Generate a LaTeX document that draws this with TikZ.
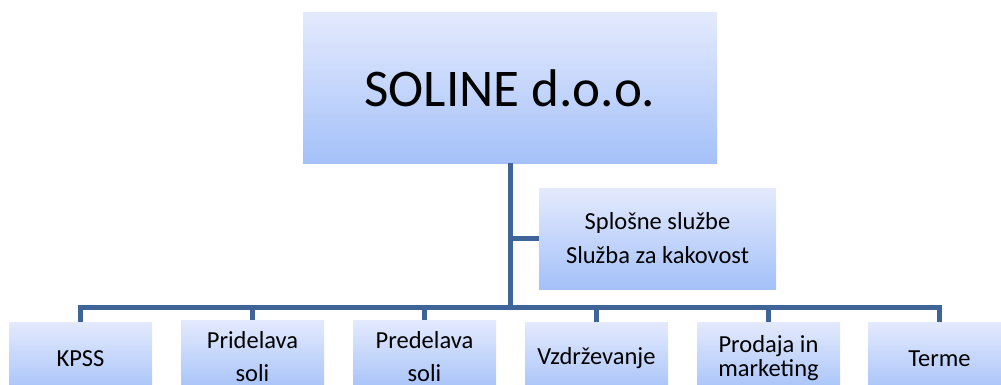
\documentclass[tikz,border=0pt]{standalone}
\usepackage{fontspec}
\setmainfont{Carlito}
\usepackage{tikz}

\definecolor{boxtop}{HTML}{E4EAFD}
\definecolor{boxbot}{HTML}{A4C1F9}
\definecolor{linkblue}{HTML}{3F6497}

\tikzset{
  unit/.style={top color=boxtop, bottom color=boxbot, draw=none, inner sep=0pt,
    align=center, font=\fontsize{24.5}{29.4}\selectfont},
  dept/.style={unit, minimum width=143pt, minimum height=73pt},
  link/.style={draw=linkblue, line width=5pt}
}

\begin{document}
\begin{tikzpicture}[x=1pt,y=-1pt]
\useasboundingbox (0,0) rectangle (1001,385);
\clip (0,0) rectangle (1001,385);

% company
\node[unit, minimum width=414pt, minimum height=150pt,
  font=\fontsize{53}{62}\selectfont] (soline) at (510,88) {SOLINE d.o.o.};

% staff units
\node[unit, minimum width=237pt, minimum height=101pt] (sluzbe) at (657.5,238.5)
  {Splošne službe\\[4.6pt]Služba za kakovost};

% departments
\node[dept] (kpss) at (80.5,358.5) {KPSS};
\node[dept] (pridelava) at (252.5,356.5) {Pridelava\\[3pt]soli};
\node[dept] (predelava) at (424.5,356.5) {Predelava\\[3pt]soli};
\node[dept] (vzdrz) at (596.5,358.5) {Vzdrževanje};
\node[dept] (prodaja) at (768.5,358.5) {Prodaja in\\[-5.4pt]marketing};
\node[dept] (terme) at (939.5,358.5) {Terme};

\coordinate (bus) at (510,307);

\draw[link] (soline.south) -- (bus);
\draw[link] (sluzbe.west) -- (sluzbe.west -| soline.south);
\foreach \d in {kpss,pridelava,predelava,vzdrz,prodaja,terme}
  \draw[link] (bus) -| (\d.north);

\end{tikzpicture}
\end{document}
